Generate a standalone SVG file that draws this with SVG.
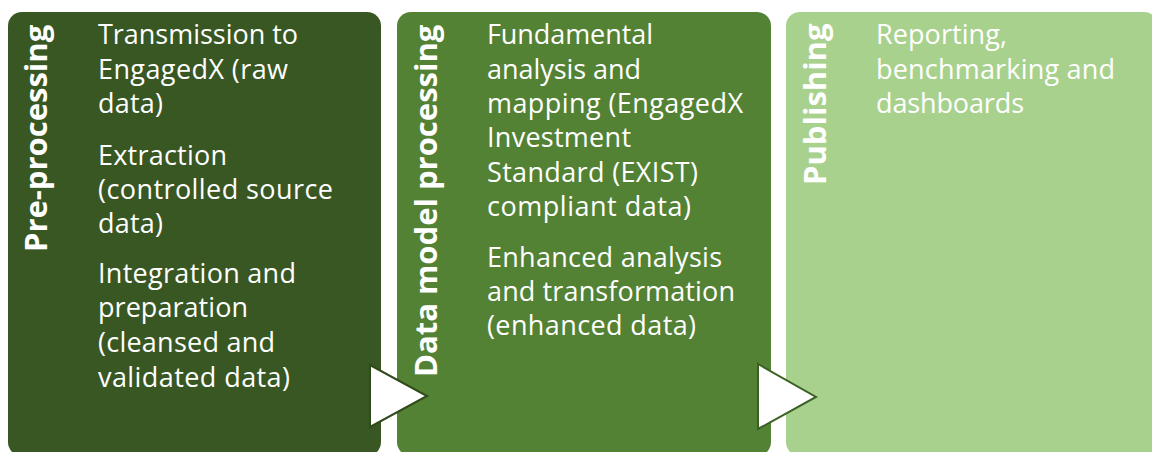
<svg xmlns="http://www.w3.org/2000/svg" width="1152" height="452" viewBox="0 0 1152 452">
<style>
.title{font-family:"Open Sans","Noto Sans",sans-serif;font-weight:bold;font-size:31px;fill:#ffffff}
.body{font-family:"Open Sans","Noto Sans",sans-serif;font-size:27px;fill:#ffffff}
</style>
<rect width="1152" height="452" fill="#ffffff"/>
<g id="pre-processing">
<rect x="8" y="12" width="373" height="444" rx="14" fill="#385723"/>
<text class="title" transform="translate(47,252) rotate(-90)">Pre-processing</text>
<text class="body" x="98" y="44" textLength="200">Transmission to</text>
<text class="body" x="98" y="79" textLength="190">EngagedX (raw</text>
<text class="body" x="98" y="113" textLength="65">data)</text>
<text class="body" x="98" y="165" textLength="129">Extraction</text>
<text class="body" x="98" y="199" textLength="235">(controlled source</text>
<text class="body" x="98" y="233" textLength="65">data)</text>
<text class="body" x="98" y="283" textLength="198">Integration and</text>
<text class="body" x="98" y="317" textLength="150">preparation</text>
<text class="body" x="98" y="352" textLength="177">(cleansed and</text>
<text class="body" x="98" y="387" textLength="192">validated data)</text>
</g>
<g id="data-model-processing">
<rect x="397" y="12" width="374" height="444" rx="14" fill="#548235"/>
<text class="title" transform="translate(437,377) rotate(-90)">Data model processing</text>
<text class="body" x="487" y="44" textLength="166">Fundamental</text>
<text class="body" x="487" y="79" textLength="154">analysis and</text>
<text class="body" x="487" y="113" textLength="256">mapping (EngagedX</text>
<text class="body" x="487" y="147" textLength="144">Investment</text>
<text class="body" x="487" y="182" textLength="211">Standard (EXIST)</text>
<text class="body" x="487" y="216" textLength="204">compliant data)</text>
<text class="body" x="487" y="267" textLength="235">Enhanced analysis</text>
<text class="body" x="487" y="301" textLength="248">and transformation</text>
<text class="body" x="487" y="335" textLength="209">(enhanced data)</text>
</g>
<g id="publishing">
<rect x="786" y="12" width="372" height="444" rx="14" fill="#A9D18E"/>
<text class="title" transform="translate(826,185) rotate(-90)">Publishing</text>
<text class="body" x="876" y="44" textLength="131">Reporting,</text>
<text class="body" x="876" y="79" textLength="239">benchmarking and</text>
<text class="body" x="876" y="113" textLength="148">dashboards</text>
</g>
<g id="connectors">
<polygon points="370,365 370,427 427,396" fill="#ffffff" stroke="#2f4a1b" stroke-width="2" stroke-linejoin="miter"/>
<polygon points="758,364 758,429 816,397" fill="#ffffff" stroke="#3b6124" stroke-width="2" stroke-linejoin="miter"/>
</g>
</svg>
